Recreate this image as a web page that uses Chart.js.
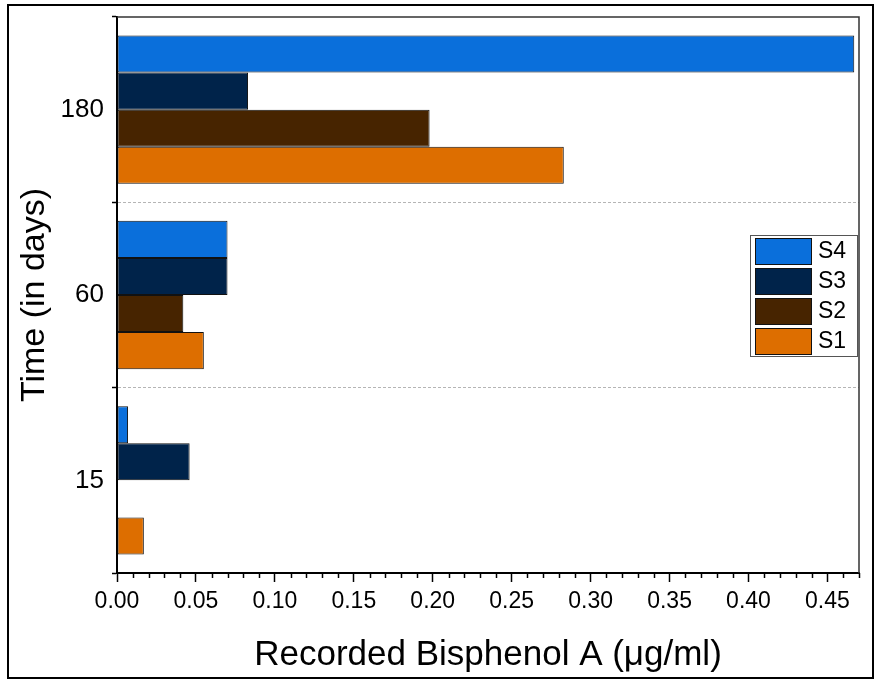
<!DOCTYPE html>
<html>
<head>
<meta charset="utf-8">
<script src="https://cdn.jsdelivr.net/npm/chart.js@4/dist/chart.umd.min.js"></script>
<style>
  html, body { margin: 0; padding: 0; background: #fff; }
  canvas { display: block; }
</style>
</head>
<body>
<canvas id="chart" width="878" height="682"></canvas>
<script>
// Sampling days (top to bottom)
const days = ['180', '60', '15'];

// Recorded Bisphenol A per sample (µg/ml)
const s4 = [0.467, 0.070, 0.007];
const s3 = [0.083, 0.070, 0.046];
const s2 = [0.198, 0.042, null];
const s1 = [0.283, 0.055, 0.017];

const seriesNames = ['S4', 'S3', 'S2', 'S1'];
const seriesColors = ['#0A6FDB', '#00234A', '#472400', '#DD6E00'];

// x axis range and labelled ticks
const xMin = 0;
const xMax = 0.47;
const xTickValues = [0, 0.05, 0.10, 0.15, 0.20, 0.25, 0.30, 0.35, 0.40, 0.45];
const minorStep = 0.01;

const FONT = "'Liberation Sans', Arial, sans-serif";

// White page with an outer frame, plus the top/right edges of the plot box
const framePlugin = {
  id: 'frame',
  beforeDraw(chart) {
    const ctx = chart.ctx;
    ctx.save();
    ctx.fillStyle = '#fff';
    ctx.fillRect(0, 0, chart.width, chart.height);
    ctx.strokeStyle = '#000';
    ctx.lineWidth = 2;
    ctx.strokeRect(8, 5, 865, 673);
    ctx.restore();
  },
  afterDatasetsDraw(chart) {
    const { ctx, chartArea: a } = chart;
    ctx.save();
    ctx.strokeStyle = '#333';
    ctx.lineWidth = 1.5;
    ctx.beginPath();
    ctx.moveTo(a.left, a.top);
    ctx.lineTo(a.right, a.top);
    ctx.lineTo(a.right, a.bottom);
    ctx.stroke();
    ctx.restore();
  }
};

// Short minor ticks on the value axis between the labelled ones
const minorTicksPlugin = {
  id: 'minorTicks',
  afterDraw(chart) {
    const x = chart.scales.x;
    const ctx = chart.ctx;
    const y0 = chart.chartArea.bottom;
    ctx.save();
    ctx.strokeStyle = '#000';
    ctx.lineWidth = 1.5;
    const n = Math.round((xMax - xMin) / minorStep);
    for (let i = 0; i <= n; i++) {
      const v = xMin + i * minorStep;
      if (xTickValues.some(t => Math.abs(t - v) < 1e-9)) continue;
      const px = Math.round(x.getPixelForValue(v)) + 0.5;
      ctx.beginPath();
      ctx.moveTo(px, y0);
      ctx.lineTo(px, y0 + 5);
      ctx.stroke();
    }
    ctx.restore();
  }
};

// Boxed legend inside the plot area
const boxLegendPlugin = {
  id: 'boxLegend',
  afterDraw(chart) {
    const { ctx, chartArea: a } = chart;
    const w = 107, h = 121;
    const bx = a.right - w - 2;
    const by = a.top + 218;
    ctx.save();
    ctx.fillStyle = '#fff';
    ctx.fillRect(bx, by, w, h);
    ctx.strokeStyle = '#555';
    ctx.lineWidth = 1;
    ctx.strokeRect(bx + 0.5, by + 0.5, w, h);
    ctx.font = '23px ' + FONT;
    ctx.textBaseline = 'middle';
    ctx.textAlign = 'left';
    chart.data.datasets.forEach((ds, i) => {
      const sy = by + 3 + i * 30;
      ctx.fillStyle = ds.backgroundColor;
      ctx.fillRect(bx + 5, sy, 56, 26);
      ctx.strokeStyle = '#111';
      ctx.lineWidth = 1;
      ctx.strokeRect(bx + 5.5, sy + 0.5, 56, 26);
      ctx.fillStyle = '#000';
      ctx.fillText(ds.label, bx + 68, sy + 14);
    });
    ctx.restore();
  }
};

const seriesData = [s4, s3, s2, s1];

new Chart(document.getElementById('chart'), {
  type: 'bar',
  data: {
    labels: days,
    datasets: seriesNames.map((name, i) => ({
      label: name,
      data: seriesData[i],
      backgroundColor: seriesColors[i],
      borderColor: '#111',
      borderWidth: 1,
      borderSkipped: false,
      categoryPercentage: 0.8,
      barPercentage: 1.0
    }))
  },
  options: {
    indexAxis: 'y',
    responsive: false,
    animation: false,
    devicePixelRatio: 1,
    layout: { padding: { left: 0, top: 17, right: 19, bottom: 0 } },
    plugins: {
      legend: { display: false },
      tooltip: { enabled: false }
    },
    scales: {
      x: {
        type: 'linear',
        min: xMin,
        max: xMax,
        afterBuildTicks(scale) {
          scale.ticks = xTickValues.map(v => ({ value: v }));
        },
        afterFit(scale) {
          scale.height = 109;
          scale.paddingLeft = 0;
          scale.paddingRight = 0;
        },
        ticks: {
          autoSkip: false,
          maxRotation: 0,
          padding: 6,
          color: '#000',
          font: { family: FONT, size: 23 },
          callback: v => Number(v).toFixed(2)
        },
        grid: {
          drawOnChartArea: false,
          drawTicks: true,
          tickLength: 9,
          tickColor: '#000',
          tickWidth: 1.5
        },
        border: { display: true, color: '#000', width: 2 },
        title: {
          display: true,
          text: 'Recorded Bisphenol A (μg/ml)',
          color: '#000',
          font: { family: FONT, size: 35 },
          padding: { top: 0, bottom: 6 }
        }
      },
      y: {
        type: 'category',
        offset: true,
        afterFit(scale) {
          scale.width = 117;
          scale.paddingTop = 0;
          scale.paddingBottom = 0;
        },
        ticks: {
          padding: 8,
          color: '#000',
          font: { family: FONT, size: 26 }
        },
        grid: {
          offset: true,
          drawOnChartArea: true,
          color: ctx => (ctx.index === 0 || ctx.index === days.length) ? 'rgba(0,0,0,0)' : '#b5b5b5',
          lineWidth: 1,
          tickLength: 5,
          tickColor: '#000',
          tickWidth: 1.5
        },
        border: { display: true, color: '#000', width: 2, dash: [3, 2] },
        title: {
          display: true,
          text: 'Time (in days)',
          color: '#000',
          font: { family: FONT, size: 34 },
          padding: { top: 14, bottom: 0 }
        }
      }
    }
  },
  plugins: [framePlugin, minorTicksPlugin, boxLegendPlugin]
});
</script>
</body>
</html>
